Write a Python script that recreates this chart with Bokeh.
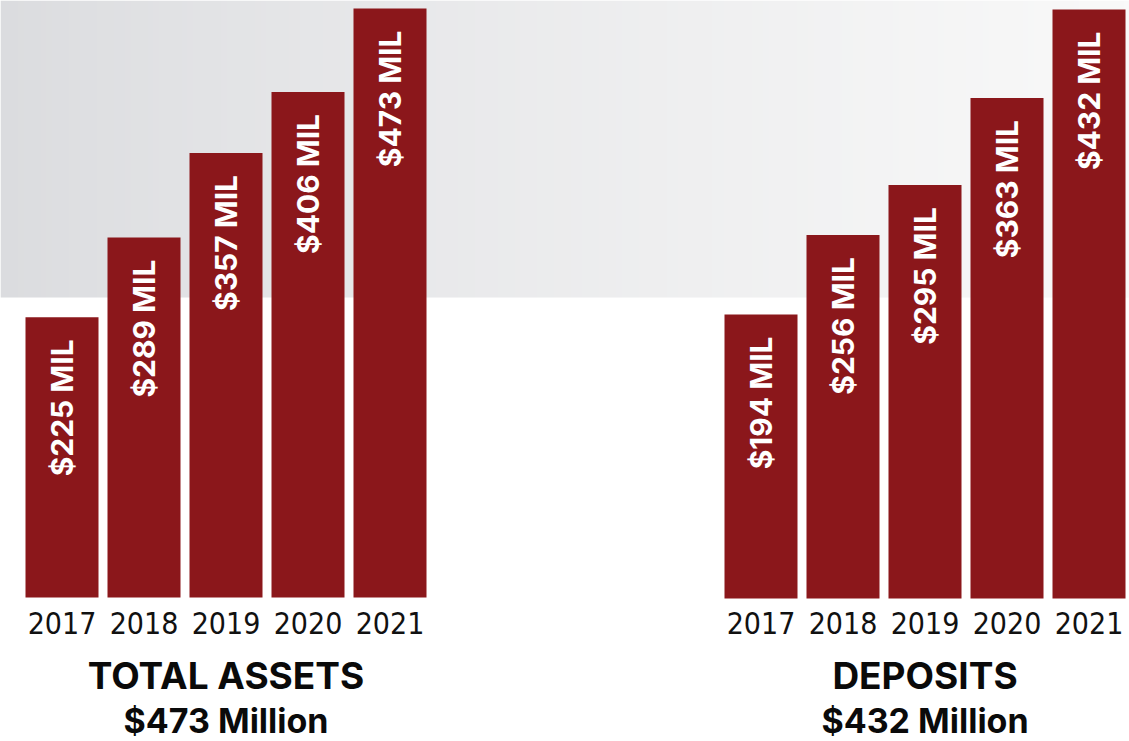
import numpy as np
from bokeh.plotting import figure
from bokeh.models import Range1d, ColumnDataSource
from bokeh.core.properties import value
from bokeh.embed import file_html
from bokeh.resources import INLINE

# ---- data ----
years = ["2017", "2018", "2019", "2020", "2021"]
assets = [225, 289, 357, 406, 473]
deposits = [194, 256, 295, 363, 432]
assets_title = "TOTAL ASSETS"
assets_total = "$473 Million"
deposits_title = "DEPOSITS"
deposits_total = "$432 Million"

# ---- layout constants ----
W, H = 1129, 741
BAR_COLOR = "#8B171B"
SLOT = 82.0                 # px per bar slot
X0_PX = 61.5                # px position of first bar center
RIGHT_OFFSET = (760.5 - 61.5) / SLOT
BASE_PX = 597.0             # px from top where left bars start
K_LEFT = 589.0 / 473.0      # px per unit (left)
K_RIGHT = 1.2815            # px per unit (right)
ZERO_RIGHT_PX = 562.6       # px from top of value 0 on the right scale
RIGHT_BASE_PX = 598.0
YEAR_MID_PX = 622.0
TITLE1_MID_PX = 675.0
TITLE2_MID_PX = 720.0

xs = Range1d(-X0_PX / SLOT, -X0_PX / SLOT + W / SLOT)
ys = Range1d(-(H - BASE_PX) / K_LEFT, BASE_PX / K_LEFT)
ysr = Range1d(-(H - ZERO_RIGHT_PX) / K_RIGHT, ZERO_RIGHT_PX / K_RIGHT)
right_base = (ZERO_RIGHT_PX - RIGHT_BASE_PX) / K_RIGHT

p = figure(width=W, height=H, x_range=xs, y_range=ys, output_backend="svg",
           toolbar_location=None, min_border=0, outline_line_color=None,
           background_fill_color="white", border_fill_color="white")
p.extra_y_ranges = {"r": ysr}
p.axis.visible = False
p.grid.visible = False

# background gradient band
band_bottom = (BASE_PX - 297) / K_LEFT
N = 200
t = np.linspace(0, 1, N)
c0 = np.array([219, 220, 223]); c1 = np.array([249, 249, 249])
tt = t ** 0.8
cols = (c0[None, :] * (1 - tt[:, None]) + c1[None, :] * tt[:, None]).astype(np.uint32)
img = np.empty((1, N), dtype=np.uint32)
view = img.view(dtype=np.uint8).reshape((1, N, 4))
view[0, :, 0] = cols[:, 0]; view[0, :, 1] = cols[:, 1]; view[0, :, 2] = cols[:, 2]; view[0, :, 3] = 255
p.image_rgba(image=[img], x=xs.start, y=band_bottom, dw=xs.end - xs.start,
             dh=ys.end - band_bottom)

left_x = [i for i in range(len(years))]
right_x = [i + RIGHT_OFFSET for i in range(len(years))]

src_l = ColumnDataSource(dict(x=left_x, top=assets, year=years,
                              lab=[f"${v} MIL" for v in assets]))
src_r = ColumnDataSource(dict(x=right_x, top=deposits, year=years,
                              lab=[f"${v} MIL" for v in deposits]))

p.vbar(x="x", top="top", bottom=0, width=73 / SLOT, source=src_l,
       fill_color=BAR_COLOR, line_color=None)
p.vbar(x="x", top="top", bottom=right_base, width=73 / SLOT, source=src_r,
       fill_color=BAR_COLOR, line_color=None, y_range_name="r")

lab_kw = dict(text="lab", angle=np.pi / 2, text_align="right", text_baseline="middle",
              text_color="white", text_font=value("Inter"), text_font_style="bold",
              text_font_size="30px", y_offset=22)
p.text(x="x", y="top", source=src_l, **lab_kw)
p.text(x="x", y="top", source=src_r, y_range_name="r", **lab_kw)

yr_font = value("DejaVu Sans Condensed, Roboto Condensed, Liberation Sans Narrow, Roboto")
yr_kw = dict(text="year", text_align="center", text_baseline="middle",
             text_color="#111111", text_font=yr_font, text_font_size="30px")
p.text(x="x", y=0, source=src_l, y_offset=YEAR_MID_PX - BASE_PX, **yr_kw)
p.text(x="x", y=right_base, source=src_r, y_range_name="r",
       y_offset=YEAR_MID_PX - RIGHT_BASE_PX, **yr_kw)

cl = (len(years) - 1) / 2
cr = cl + RIGHT_OFFSET
title_src = ColumnDataSource(dict(x=[cl, cr], t1=[assets_title, deposits_title],
                                  t2=[assets_total, deposits_total]))
tkw = dict(x="x", y=0, source=title_src, text_align="center", text_baseline="middle",
           text_font=value("Inter"), text_font_style="bold", text_color="#0a0a0a")
p.text(text="t1", text_font_size="37px", y_offset=TITLE1_MID_PX - BASE_PX, **tkw)
p.text(text="t2", text_font_size="34px", y_offset=TITLE2_MID_PX - BASE_PX, **tkw)

open("out.html", "w").write(file_html(p, INLINE))
